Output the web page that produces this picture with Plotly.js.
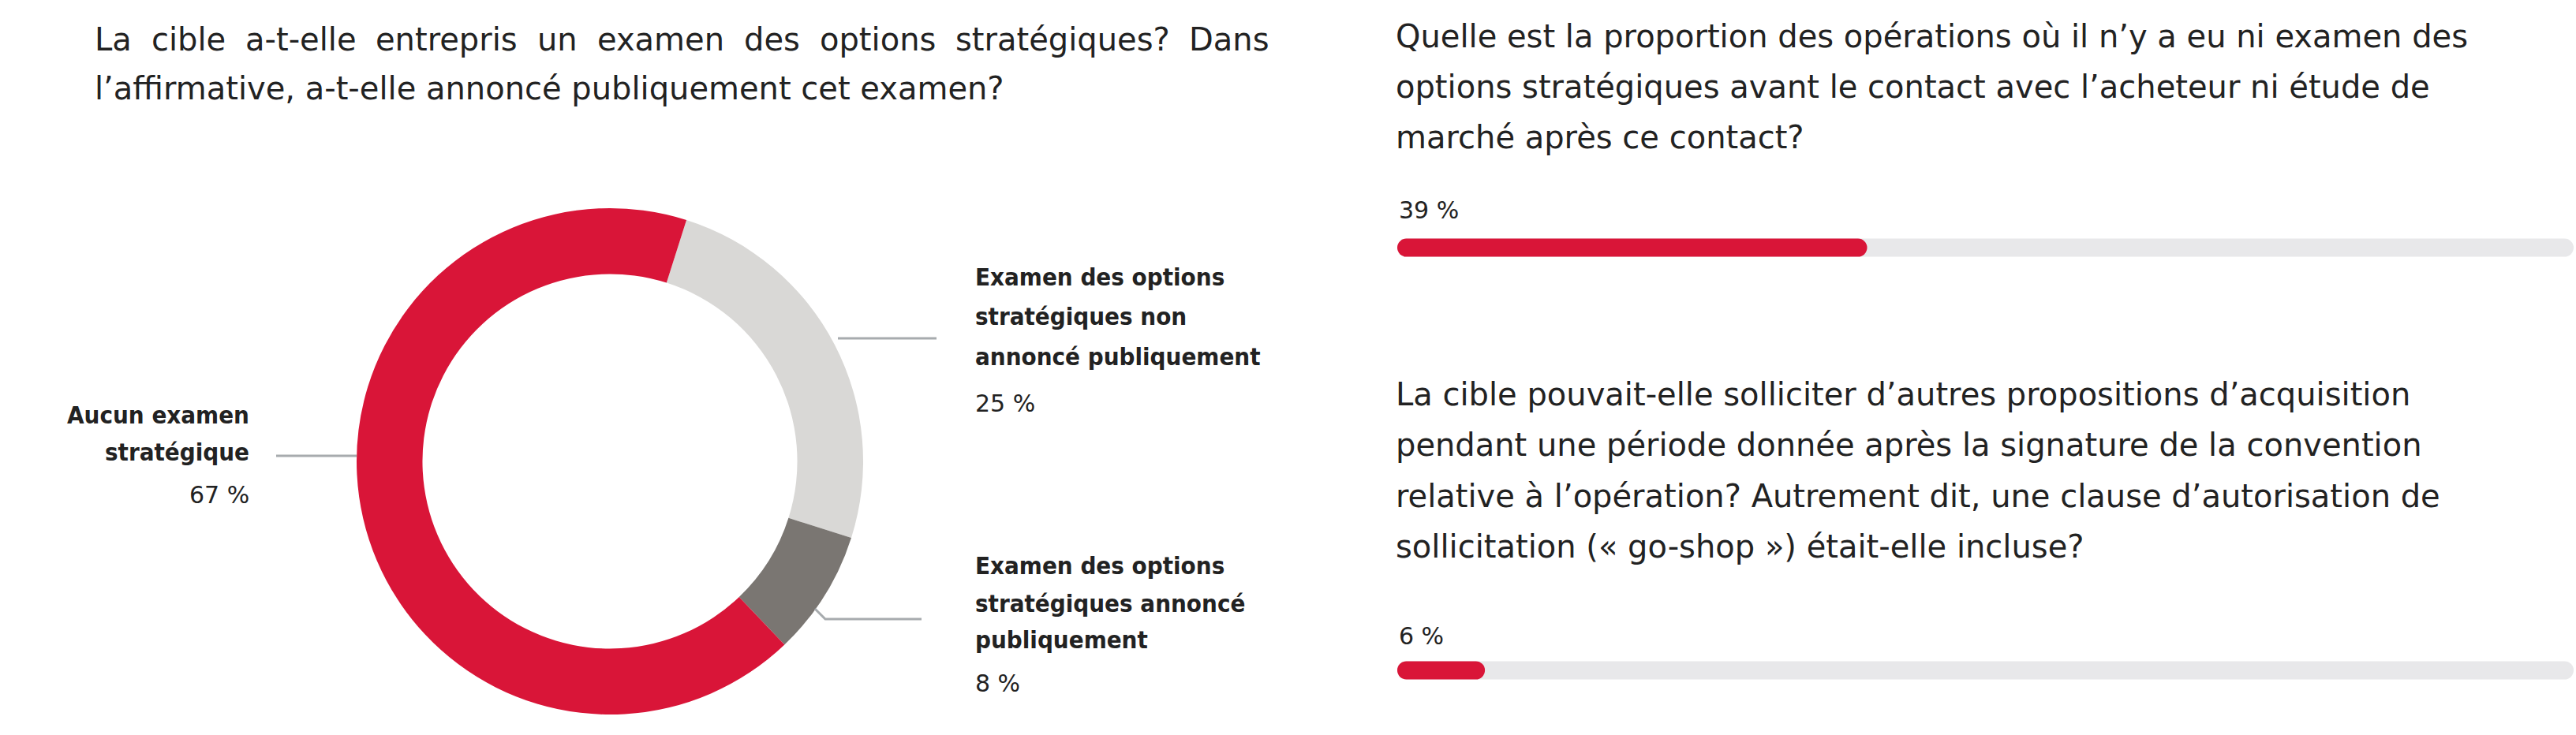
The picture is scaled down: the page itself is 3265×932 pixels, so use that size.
<!DOCTYPE html>
<html>
<head>
<meta charset="utf-8">
<script src="https://cdn.plot.ly/plotly-3.0.1.min.js"></script>
<style>
  body { margin: 0; background: #fff; }
  #graphique { width: 3265px; height: 932px; }
  path.js-line { stroke-linecap: round !important; }
</style>
</head>
<body>
<div id="graphique"></div>
<script>
// donnees du graphique en anneau
var categoriesExamen = ["Examen des options stratégiques non annoncé publiquement",
                        "Examen des options stratégiques annoncé publiquement",
                        "Aucun examen stratégique"];
var valeursExamen = [25, 8, 67];
var couleursExamen = ["#d9d8d6", "#7a7672", "#d91538"];

// donnees des barres de progression
var questions = ["sans examen ni étude de marché", "clause go-shop"];
var valeursQuestions = [39, 6];
var maximum = 100;

var titreGauche = ["La cible a-t-elle entrepris un examen des options stratégiques? Dans",
                   "l’affirmative, a-t-elle annoncé publiquement cet examen?"];
var titreQ1 = ["Quelle est la proportion des opérations où il n’y a eu ni examen des",
               "options stratégiques avant le contact avec l’acheteur ni étude de",
               "marché après ce contact?"];
var titreQ2 = ["La cible pouvait-elle solliciter d’autres propositions d’acquisition",
               "pendant une période donnée après la signature de la convention",
               "relative à l’opération? Autrement dit, une clause d’autorisation de",
               "sollicitation (« go-shop ») était-elle incluse?"];

var W = 3265, H = 932;
var police = "DejaVu Sans, sans-serif";
var policeGras = "DejaVu Sans Condensed, DejaVu Sans, sans-serif";
var couleurTexte = "#222222";
function px(x) { return x / W; }
function py(y) { return 1 - y / H; }

var annotations = [];
function texte(t, x, y, taille, gras, ancre) {
  annotations.push({
    text: gras ? "<b>" + t + "</b>" : t,
    xref: "paper", yref: "paper", x: px(x), y: py(y),
    xanchor: ancre || "left", yanchor: "middle", showarrow: false,
    font: {family: gras ? policeGras : police, size: taille, color: couleurTexte}
  });
}

// premiere ligne du titre gauche justifiee
var ctx = document.createElement("canvas").getContext("2d");
ctx.font = "40px 'DejaVu Sans'";
var mots = titreGauche[0].split(" ");
var largeurs = mots.map(function(m) { return ctx.measureText(m).width; });
var total = largeurs.reduce(function(a, b) { return a + b; }, 0);
var espace = (1607 - 118 - total) / (mots.length - 1);
var xpos = 118;
mots.forEach(function(m, i) {
  texte(m, xpos, 50, 40, false);
  xpos += largeurs[i] + espace;
});
texte(titreGauche[1], 118, 112, 40, false);

titreQ1.forEach(function(l, i) { texte(l, 1767, 46 + i * 64, 40, false); });
titreQ2.forEach(function(l, i) { texte(l, 1767, 500 + i * 64.3, 40, false); });
texte(valeursQuestions[0] + " %", 1771, 267, 30, false);
texte(valeursQuestions[1] + " %", 1771, 806, 30, false);

// etiquettes de l'anneau
texte("Examen des options", 1234, 351, 31, true);
texte("stratégiques non", 1234, 401, 31, true);
texte("annoncé publiquement", 1234, 452, 31, true);
texte(valeursExamen[0] + " %", 1234, 511, 30, false);
texte("Examen des options", 1234, 717, 31, true);
texte("stratégiques annoncé", 1234, 765, 31, true);
texte("publiquement", 1234, 811, 31, true);
texte(valeursExamen[1] + " %", 1234, 866, 30, false);
texte("Aucun examen", 318, 526, 31, true, "right");
texte("stratégique", 318, 573, 31, true, "right");
texte(valeursExamen[2] + " %", 318, 627, 30, false, "right");

var traitGris = {color: "#a7abae", width: 3};
var shapes = [
  {type: "line", xref: "paper", yref: "paper", x0: px(350), y0: py(578), x1: px(452), y1: py(578), line: traitGris},
  {type: "line", xref: "paper", yref: "paper", x0: px(1062), y0: py(429), x1: px(1187), y1: py(429), line: traitGris},
  {type: "path", xref: "paper", yref: "paper",
   path: "M" + px(1033) + "," + py(772) + " L" + px(1046) + "," + py(785) + " L" + px(1168) + "," + py(785),
   line: traitGris}
];

var anneau = {
  type: "pie",
  labels: categoriesExamen,
  values: valeursExamen,
  marker: {colors: couleursExamen, line: {width: 0}},
  hole: 0.74,
  sort: false,
  direction: "clockwise",
  rotation: 17.6,
  textinfo: "none",
  hoverinfo: "label+percent",
  showlegend: false,
  domain: {x: [px(452), px(1094)], y: [py(906), py(264)]}
};

var traces = [anneau];
questions.forEach(function(q, i) {
  traces.push({
    type: "scatter", mode: "lines",
    x: [0, maximum], y: [q, q],
    xaxis: "x", yaxis: "y",
    line: {color: "#e8e8ea", width: 23},
    hoverinfo: "skip", showlegend: false
  });
  traces.push({
    type: "scatter", mode: "lines",
    x: [0, valeursQuestions[i]], y: [q, q],
    xaxis: "x", yaxis: "y",
    line: {color: "#d91538", width: 23},
    hoverinfo: "skip", showlegend: false
  });
});

// marge laissee pour les bouts arrondis des barres
var bout = 11.5 * maximum / 1468;

var layout = {
  width: W, height: H,
  margin: {l: 0, r: 0, t: 0, b: 0},
  paper_bgcolor: "#ffffff",
  plot_bgcolor: "rgba(0,0,0,0)",
  xaxis: {domain: [px(1771), px(3262)], range: [-bout, maximum + bout], visible: false, fixedrange: true},
  yaxis: {domain: [0, 1], type: "category", categoryorder: "array", categoryarray: questions,
          range: [1.153, -0.586], visible: false, fixedrange: true},
  annotations: annotations,
  shapes: shapes
};

Plotly.newPlot("graphique", traces, layout, {displayModeBar: false, staticPlot: true});
</script>
</body>
</html>
